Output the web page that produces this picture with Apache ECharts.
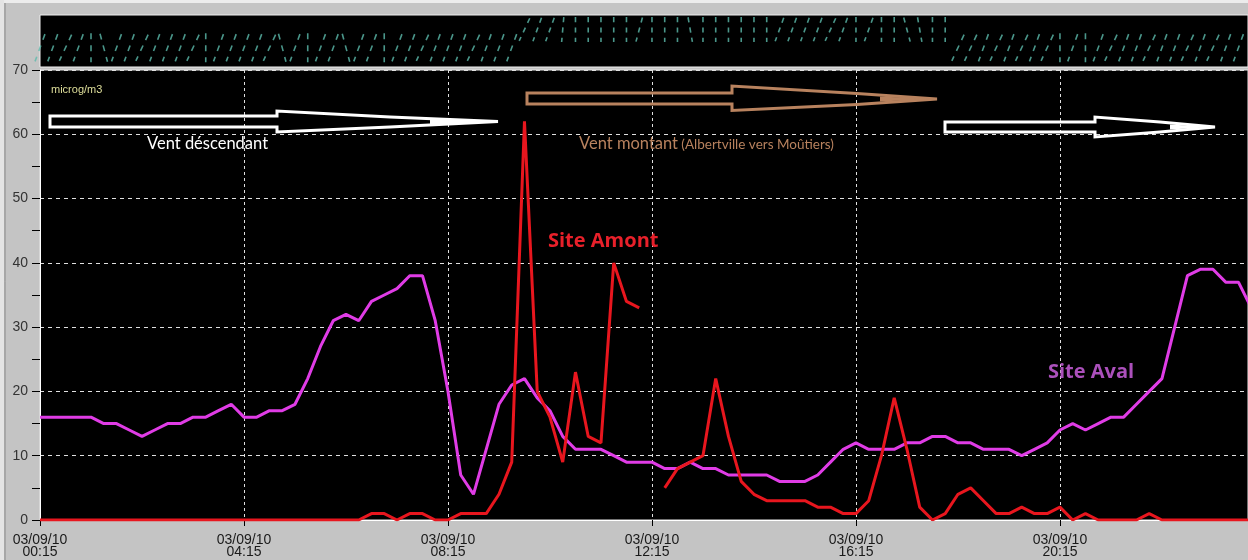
<!DOCTYPE html>
<html><head><meta charset="utf-8">
<script src="https://cdn.jsdelivr.net/npm/echarts/dist/echarts.min.js"></script>
<style>html,body{margin:0;padding:0;background:#c4c4c4;}#c{width:1248px;height:560px;}</style>
</head><body><div id="c"></div>
<script>
// quarter-hour steps starting 03/09/10 00:15
const xTickLabels = ['03/09/10\n00:15','03/09/10\n04:15','03/09/10\n08:15','03/09/10\n12:15','03/09/10\n16:15','03/09/10\n20:15'];
const siteAval = [16,16,16,16,16,15,15,14,13,14, 15,15,16,16,17,18,16,16,17,17,
  18,22,27,31,32,31,34,35,36,38, 38,31,20,7,4,11,18,21,22,19,
  17,13,11,11,11,10,9,9,9,8, 8,9,8,8,7,7,7,7,6,6,
  6,7,9,11,12,11,11,11,12,12, 13,13,12,12,11,11,11,10,11,12,
  14,15,14,15,16,16,18,20,22,30, 38,39,39,37,37,33];
const siteAmont = [0,0,0,0,0,0,0,0,0,0, 0,0,0,0,0,0,0,0,0,0,
  0,0,0,0,0,0,1,1,0,1, 1,0,0,1,1,1,4,9,62,20,
  16,9,23,13,12,40,34,33,null,5, 8,9,10,22,13,6,4,3,3,3,
  3,2,2,1,1,3,10,19,11,2, 0,1,4,5,3,1,1,2,1,1,
  2,0,1,0,0,0,0,1,0,0, 0,0,0,0,0,0];
// wind glyph lean (degrees, positive = leaning right) and band (1 = low, 2 = high)
const windAngle = [20,20,25,20,0,-15,20,20,25,20,20,20,25,0,20,20,20,20,25,-15,20,0,20,20,-15,20,20,0,20,20,25,20,20,20,25,20,20,20,
  25,20,20,5,0,0,0,0,0,15,0,0,0,-10,0,0,0,0,0,0,20,20,20,20,25,20,0,20,0,0,-15,-10,0,0,
  25,25,20,25,20,25,20,25,0,20,0,20,25,20,20,25,20,20,25,20,25,20,20,25];
const windBand = [1,1,1,1,1,1,1,1,1,1,1,1,1,1,1,1,1,1,1,1,1,1,1,1,1,1,1,1,1,1,1,1,1,1,1,1,1,1,
  2,2,2,2,2,2,2,2,2,2,2,2,2,2,2,2,2,2,2,2,2,2,2,2,2,2,2,2,2,2,2,2,2,2,
  1,1,1,1,1,1,1,1,1,1,1,1,1,1,1,1,1,1,1,1,1,1,1,1];

const XMAX = 94.75;
const bandY = {1: 0.37, 2: 0.72};
const bandH = {1: 29, 2: 25};
const GLYPH = 'path://M0,0h1.6v6h-1.6z M0,12h1.6v6h-1.6z M0,24h1.6v5h-1.6z';

const chart = echarts.init(document.getElementById('c'));
chart.setOption({
  backgroundColor: '#c4c4c4',
  animation: false,
  grid: [
    {left: 40, right: 0, top: 70, bottom: 40, show: true, backgroundColor: '#000', borderColor: '#e8e8e8', borderWidth: 1},
    {left: 40, right: 0, top: 15, height: 52, show: true, backgroundColor: '#000', borderColor: '#f0f0f0', borderWidth: 1}
  ],
  xAxis: [
    {type: 'value', gridIndex: 0, min: 0, max: XMAX, interval: 16,
     axisLine: {show: true, onZero: false, lineStyle: {color: '#ffffff', width: 1}},
     axisTick: {show: true, length: 6, lineStyle: {color: '#000'}},
     axisLabel: {formatter: v => xTickLabels[v / 16] || '', color: '#1a1a1a', fontSize: 14, lineHeight: 12, margin: 14, fontFamily: 'Liberation Sans', showMaxLabel: false},
     splitLine: {show: true, lineStyle: {color: '#e0e0e0', type: [3, 3], width: 1}}},
    {type: 'value', gridIndex: 1, min: 0, max: XMAX, show: false}
  ],
  yAxis: [
    {type: 'value', gridIndex: 0, min: 0, max: 70, interval: 10,
     axisLine: {show: true, lineStyle: {color: '#ffffff'}},
     axisTick: {show: true, length: 8, lineStyle: {color: '#000'}},
     minorTick: {show: true, splitNumber: 2, length: 8, lineStyle: {color: '#000'}},
     axisLabel: {color: '#333', fontSize: 14, margin: 12, fontFamily: 'Liberation Sans'},
     splitLine: {show: true, lineStyle: {color: '#e0e0e0', type: [4, 4], width: 1}}},
    {type: 'value', gridIndex: 1, min: 0, max: 1, show: false}
  ],
  series: [
    {type: 'line', name: 'Site Aval', xAxisIndex: 0, yAxisIndex: 0, symbol: 'none', z: 3,
     data: siteAval.map((v, i) => [i, v]), lineStyle: {color: '#e03ce6', width: 3}},
    {type: 'line', name: 'Site Amont', xAxisIndex: 0, yAxisIndex: 0, symbol: 'none', z: 4, connectNulls: false,
     data: siteAmont.map((v, i) => [i, v === null ? '-' : v]), lineStyle: {color: '#e8161e', width: 3}},
    {type: 'scatter', name: 'vent', xAxisIndex: 1, yAxisIndex: 1, silent: true,
     symbol: GLYPH, itemStyle: {color: '#5cbcac'},
     data: windAngle.map((a, i) => ({value: [i, bandY[windBand[i]]], symbolRotate: -a, symbolSize: [1.6, bandH[windBand[i]]]}))}
  ],
  graphic: [
    {type: 'rect', shape: {x: 0, y: 0, width: 1248, height: 3}, style: {fill: '#ececec'}, silent: true},
    {type: 'rect', shape: {x: 0, y: 0, width: 4, height: 560}, style: {fill: '#e4e4e4'}, silent: true},
    {type: 'line', shape: {x1: 5, y1: 3, x2: 5, y2: 560}, style: {stroke: '#8a8a8a', lineWidth: 1}, silent: true},
    {type: 'polygon', z: 10, shape: {points: [[50,116],[277,116],[277,111],[390,117],[498,121.5],[390,127],[277,132],[277,127],[50,127]]},
     style: {fill: 'none', stroke: '#ffffff', lineWidth: 3}},
    {type: 'polygon', z: 10, shape: {points: [[430,119],[498,121.5],[430,124.5]]}, style: {fill: '#ffffff'}},
    {type: 'polygon', z: 10, shape: {points: [[527,93],[732,93],[732,86],[857,93.5],[937,99],[857,104.5],[732,110.5],[732,104],[527,104]]},
     style: {fill: 'none', stroke: '#b8825e', lineWidth: 3}},
    {type: 'polygon', z: 10, shape: {points: [[880,96.5],[937,99],[880,101.5]]}, style: {fill: '#b8825e'}},
    {type: 'polygon', z: 10, shape: {points: [[945,122],[1095,122],[1095,117],[1160,122],[1215,127],[1160,132],[1095,137],[1095,132],[945,132]]},
     style: {fill: 'none', stroke: '#ffffff', lineWidth: 3}},
    {type: 'polygon', z: 10, shape: {points: [[1170,124.5],[1215,127],[1170,129.5]]}, style: {fill: '#ffffff'}},
    {type: 'text', z: 10, left: 51, top: 84, style: {text: 'microg/m3', fill: '#dede9a', fontSize: 11, fontFamily: 'Liberation Sans'}},
    {type: 'text', z: 10, left: 147, top: 135, style: {text: 'Vent déscendant', fill: '#ffffff', fontSize: 16.5, fontFamily: 'Lato'}},
    {type: 'text', z: 10, left: 579, top: 135, style: {text: '{a|Vent montant} {b|(Albertville vers Moûtiers)}', fill: '#b8825e',
      rich: {a: {fontSize: 16.5, fontFamily: 'Lato', fill: '#b8825e'}, b: {fontSize: 13.5, fontFamily: 'Lato', fill: '#b8825e', padding: [2, 0, 0, 0]}}}},
    {type: 'text', z: 10, left: 548, top: 231, style: {text: 'Site Amont', fill: '#e8202a', fontSize: 20, fontWeight: 'bold', fontFamily: 'Open Sans'}},
    {type: 'text', z: 10, left: 1048, top: 362, style: {text: 'Site Aval', fill: '#ab50bb', fontSize: 20, fontWeight: 'bold', fontFamily: 'Open Sans'}}
  ]
});
</script></body></html>
